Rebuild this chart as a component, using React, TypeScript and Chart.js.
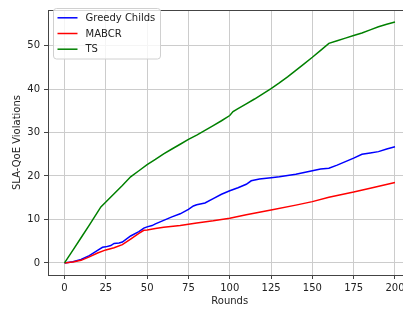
import React, { useEffect, useRef } from "react";
import { Chart, registerables } from "chart.js";

Chart.register(...registerables);

const greedyRounds = [0,5,10,15,20,23,25,28,30,33,35,40,45,48,50,53,55,60,65,70,75,78,80,85,90,95,100,105,110,113,118,125,130,135,140,145,150,155,160,165,170,175,180,185,190,195,200];
const greedyValues = [0,0.3,0.8,1.7,2.9,3.6,3.7,4.0,4.5,4.6,4.8,6.2,7.2,8.0,8.3,8.6,9.0,9.8,10.6,11.3,12.3,13.1,13.4,13.8,14.8,15.8,16.6,17.3,18.1,18.9,19.3,19.6,19.8,20.1,20.4,20.8,21.2,21.6,21.8,22.5,23.3,24.1,25.0,25.3,25.6,26.2,26.7];

const mabcrRounds = [0,5,10,15,20,25,30,35,40,45,48,50,55,60,70,75,80,90,100,110,125,140,150,160,175,185,200];
const mabcrValues = [0,0.2,0.6,1.4,2.3,3.0,3.5,4.2,5.5,6.8,7.5,7.6,7.9,8.2,8.6,8.9,9.2,9.7,10.3,11.1,12.2,13.3,14.1,15.1,16.3,17.2,18.5];

const tsRounds = [0,5,10,15,20,22,25,30,35,40,45,50,55,60,65,70,75,80,85,90,95,100,102,105,110,115,120,125,130,135,140,145,150,155,160,165,170,175,180,185,190,195,200];
const tsValues = [0,2.9,5.8,8.7,11.7,12.9,14.0,15.9,17.8,19.8,21.2,22.6,23.8,25.1,26.2,27.3,28.4,29.4,30.5,31.6,32.7,33.9,34.8,35.5,36.6,37.7,38.9,40.1,41.4,42.8,44.3,45.8,47.3,48.9,50.5,51.1,51.7,52.3,52.9,53.6,54.3,54.9,55.4];

const seriesNames = ["Greedy Childs", "MABCR", "TS"];
const seriesColors = ["#0000ff", "#ff0000", "#008000"];
const xTicks = [0, 25, 50, 75, 100, 125, 150, 175, 200];
const yTicks = [0, 10, 20, 30, 40, 50];

const FONT = '"DejaVu Sans", sans-serif';

const toPoints = (xs: number[], ys: number[]) => xs.map((x, i) => ({ x, y: ys[i] }));

const framePlugin = {
  id: "frame",
  afterDraw(chart: any) {
    const { ctx, chartArea } = chart;
    ctx.save();
    ctx.strokeStyle = "#444";
    ctx.lineWidth = 1;
    ctx.beginPath();
    ctx.moveTo(chartArea.left, chartArea.top + 0.5);
    ctx.lineTo(chartArea.right, chartArea.top + 0.5);
    ctx.lineTo(chartArea.right, chartArea.bottom);
    ctx.stroke();

    const bx = 53.5, by = 8.5, bw = 107, bh = 50.5, r = 3;
    ctx.beginPath();
    ctx.moveTo(bx + r, by);
    ctx.lineTo(bx + bw - r, by);
    ctx.quadraticCurveTo(bx + bw, by, bx + bw, by + r);
    ctx.lineTo(bx + bw, by + bh - r);
    ctx.quadraticCurveTo(bx + bw, by + bh, bx + bw - r, by + bh);
    ctx.lineTo(bx + r, by + bh);
    ctx.quadraticCurveTo(bx, by + bh, bx, by + bh - r);
    ctx.lineTo(bx, by + r);
    ctx.quadraticCurveTo(bx, by, bx + r, by);
    ctx.closePath();
    ctx.fillStyle = "rgba(255,255,255,0.8)";
    ctx.fill();
    ctx.strokeStyle = "#d0d0d0";
    ctx.lineWidth = 1;
    ctx.stroke();

    const rows = [17.8, 33.5, 49.2];
    ctx.font = `10px ${FONT}`;
    ctx.textBaseline = "middle";
    ctx.textAlign = "left";
    seriesNames.forEach((name, i) => {
      ctx.strokeStyle = seriesColors[i];
      ctx.lineWidth = 1.5;
      ctx.beginPath();
      ctx.moveTo(57.5, rows[i]);
      ctx.lineTo(77.5, rows[i]);
      ctx.stroke();
      ctx.fillStyle = "#222";
      ctx.fillText(name, 85.5, rows[i] + 0.5);
    });
    ctx.restore();
  },
};

export default function App() {
  const canvasRef = useRef<HTMLCanvasElement | null>(null);

  useEffect(() => {
    if (!canvasRef.current) return;
    const chart = new Chart(canvasRef.current, {
      type: "line",
      data: {
        datasets: [
          { label: seriesNames[0], data: toPoints(greedyRounds, greedyValues), borderColor: seriesColors[0], order: 2 },
          { label: seriesNames[1], data: toPoints(mabcrRounds, mabcrValues), borderColor: seriesColors[1], order: 1 },
          { label: seriesNames[2], data: toPoints(tsRounds, tsValues), borderColor: seriesColors[2], order: 0 },
        ].map((d) => ({ ...d, borderWidth: 1.5, pointRadius: 0, tension: 0, fill: false })),
      },
      options: {
        animation: false,
        responsive: false,
        devicePixelRatio: 1,
        layout: { padding: { top: 3, right: 8.5, left: 0, bottom: 0 } },
        plugins: { legend: { display: false }, tooltip: { enabled: false } },
        scales: {
          x: {
            type: "linear",
            min: -10,
            max: 210,
            afterBuildTicks: (s: any) => { s.ticks = xTicks.map((v) => ({ value: v })); },
            afterFit: (s: any) => { s.height = 34; },
            grid: { color: "#cccccc", lineWidth: 1, tickLength: 4, tickColor: "#444" },
            border: { color: "#444", width: 1 },
            ticks: { font: { family: FONT, size: 10 }, color: "#222", padding: 3, maxRotation: 0 },
            title: { display: true, text: "Rounds", font: { family: FONT, size: 10 }, color: "#222", padding: { top: 0, bottom: 2 } },
          },
          y: {
            type: "linear",
            min: -2.77,
            max: 58.17,
            afterBuildTicks: (s: any) => { s.ticks = yTicks.map((v) => ({ value: v })); },
            afterFit: (s: any) => { s.width = 48; },
            grid: { color: "#cccccc", lineWidth: 1, tickLength: 4, tickColor: "#444" },
            border: { color: "#444", width: 1 },
            ticks: { font: { family: FONT, size: 10 }, color: "#222", padding: 4 },
            title: { display: true, text: "SLA-QoE Violations", font: { family: FONT, size: 10 }, color: "#222", padding: { top: 11.5, bottom: 0 } },
          },
        },
      },
      plugins: [framePlugin],
    } as any);
    return () => chart.destroy();
  }, []);

  return (
    <div style={{ position: "fixed", left: 0, top: 0, width: 403, height: 309, overflow: "hidden", background: "#fff" }}>
      <canvas ref={canvasRef} width={420} height={309} style={{ display: "block", width: 420, height: 309 }} />
    </div>
  );
}
